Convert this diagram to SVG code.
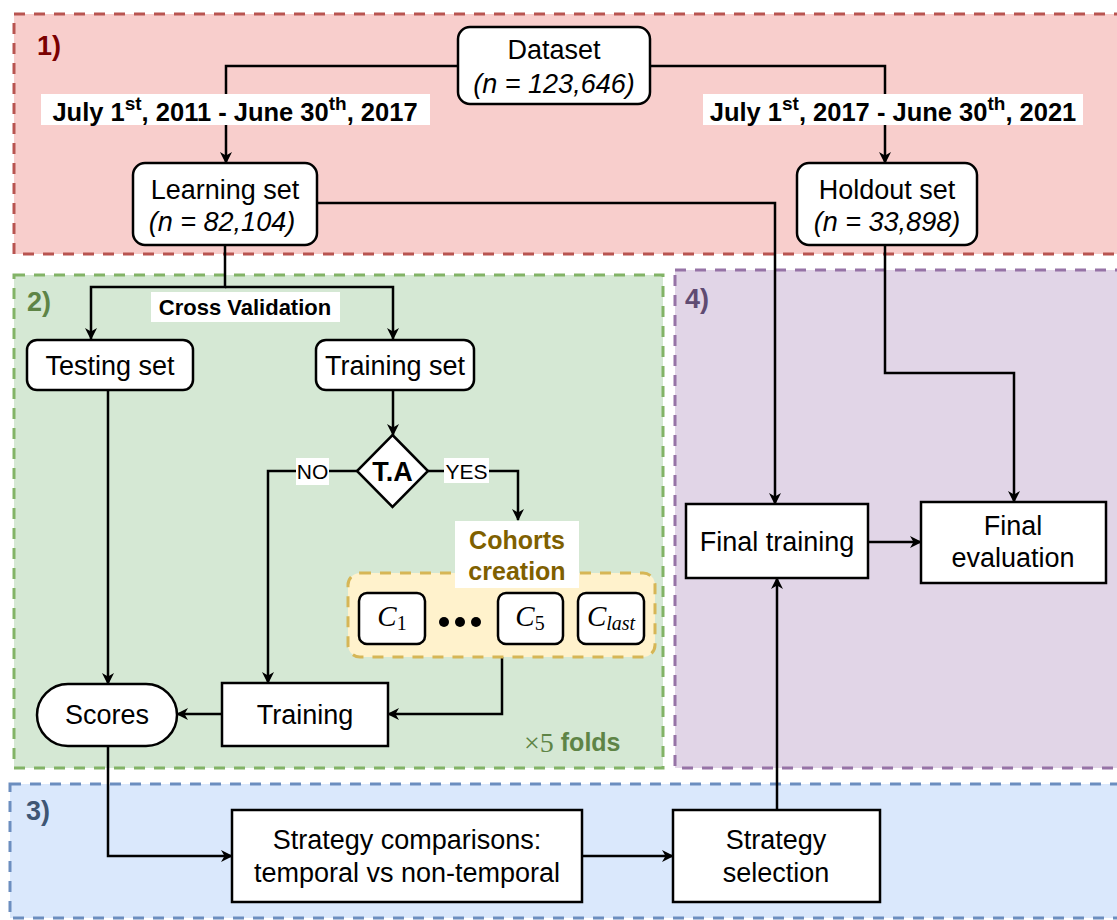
<svg xmlns="http://www.w3.org/2000/svg" width="1117" height="920" viewBox="0 0 1117 920">
<style>
.t{font-family:"Liberation Sans",Arial,sans-serif;font-size:27px;fill:#000;text-anchor:middle;dominant-baseline:central}
.b{font-weight:bold}
.node{fill:#fff;stroke:#000;stroke-width:2.5}
.c{fill:none;stroke:#000;stroke-width:2.5}
.lbg{fill:#fff}
.reg{stroke-width:3;stroke-dasharray:11 9}
.m{font-family:"Liberation Serif","Times New Roman",serif;font-size:29px;text-anchor:middle;dominant-baseline:central}
</style>
<defs>
<marker id="a" viewBox="0 0 12 12" refX="11" refY="6" markerWidth="12" markerHeight="12" markerUnits="userSpaceOnUse" orient="auto">
<path d="M0,0 L12,6 L0,12 L3.5,6 Z" fill="#000"/>
</marker>
</defs>
<rect width="1117" height="920" fill="#fff"/>
<g id="regions">
<rect x="14" y="14" width="1120" height="240" fill="#f8cecc" stroke="#b85450" class="reg"/>
<rect x="14" y="275" width="649" height="493" fill="#d5e8d4" stroke="#82b366" class="reg"/>
<rect x="675" y="270" width="460" height="498" fill="#e1d5e7" stroke="#9673a6" class="reg"/>
<rect x="10" y="784" width="1120" height="134" fill="#dae8fc" stroke="#6c8ebf" class="reg"/>
<text x="37" y="46" class="t b" style="text-anchor:start;fill:#7a0000;font-size:27px">1)</text>
<text x="27" y="302" class="t b" style="text-anchor:start;fill:#5e8446;font-size:27px">2)</text>
<text x="26" y="811" class="t b" style="text-anchor:start;fill:#3e5674;font-size:27px">3)</text>
<text x="685" y="299" class="t b" style="text-anchor:start;fill:#5f4b72;font-size:27px">4)</text>
</g>
<g id="connectors">
<path class="c" d="M458,66 H226 V163" marker-end="url(#a)"/>
<path class="c" d="M650,66 H885 V163" marker-end="url(#a)"/>
<path class="c" d="M317,203 H775 V504" marker-end="url(#a)"/>
<path class="c" d="M885,245 V373 H1014 V502" marker-end="url(#a)"/>
<path class="c" d="M225,245 V287 H91 V339" marker-end="url(#a)"/>
<path class="c" d="M225,287 H393 V339" marker-end="url(#a)"/>
<path class="c" d="M393,390 V435" marker-end="url(#a)"/>
<path class="c" d="M357,471 H268 V683" marker-end="url(#a)"/>
<path class="c" d="M428,471 H518 V520" marker-end="url(#a)"/>
<path class="c" d="M502,657 V714 H388" marker-end="url(#a)"/>
<path class="c" d="M222,714 H177" marker-end="url(#a)"/>
<path class="c" d="M108,390 V684" marker-end="url(#a)"/>
<path class="c" d="M108,746 V856 H232" marker-end="url(#a)"/>
<path class="c" d="M582,856 H673" marker-end="url(#a)"/>
<path class="c" d="M777,810 V578" marker-end="url(#a)"/>
<path class="c" d="M868,542 H921" marker-end="url(#a)"/>
<rect x="41" y="94" width="389" height="31" class="lbg"/>
<text x="235" y="121" class="t b" style="font-size:25.5px;dominant-baseline:auto">July 1<tspan font-size="19" dy="-11">st</tspan><tspan dy="11">, 2011 - June 30</tspan><tspan font-size="19" dy="-11">th</tspan><tspan dy="11">, 2017</tspan></text>
<rect x="703" y="94" width="380" height="31" class="lbg"/>
<text x="893" y="121" class="t b" style="font-size:25.5px;dominant-baseline:auto">July 1<tspan font-size="19" dy="-11">st</tspan><tspan dy="11">, 2017 - June 30</tspan><tspan font-size="19" dy="-11">th</tspan><tspan dy="11">, 2021</tspan></text>
<rect x="151" y="292" width="189" height="30" class="lbg"/>
<text x="245" y="307" class="t b" style="font-size:22px">Cross Validation</text>
<rect x="296" y="458" width="33" height="27" class="lbg"/>
<text x="312.5" y="471" class="t" style="font-size:21px">NO</text>
<rect x="444" y="458" width="45" height="25" class="lbg"/>
<text x="466.5" y="471" class="t" style="font-size:21px">YES</text>
</g>
<g id="dataset">
<rect x="458" y="27" width="192" height="77" rx="12" class="node"/>
<text x="554" y="50" class="t">Dataset</text>
<text x="554" y="84" class="t" font-style="italic">(n = 123,646)</text>
</g>
<g id="learning">
<rect x="133" y="163" width="184" height="82" rx="12" class="node"/>
<text x="225" y="190" class="t">Learning set</text>
<text x="222" y="222" class="t" font-style="italic">(n = 82,104)</text>
</g>
<g id="holdout">
<rect x="797" y="163" width="180" height="82" rx="12" class="node"/>
<text x="887" y="190" class="t">Holdout set</text>
<text x="887" y="222" class="t" font-style="italic">(n = 33,898)</text>
</g>
<g id="testing">
<rect x="27" y="340" width="166" height="50" rx="10" class="node"/>
<text x="110" y="366" class="t">Testing set</text>
</g>
<g id="trainingset">
<rect x="316" y="340" width="158" height="50" rx="10" class="node"/>
<text x="395" y="366" class="t">Training set</text>
</g>
<g id="ta">
<path d="M392.5,435 L428,471 L392.5,507 L357,471 Z" class="node"/>
<text x="392.5" y="472" class="t b" style="font-size:27px">T.A</text>
</g>
<g id="cohorts">
<rect x="348" y="573" width="307" height="84" rx="12" fill="#fff2cc" stroke="#d6b656" class="reg"/>
<rect x="455" y="521" width="124" height="67" class="lbg"/>
<text x="517" y="540" class="t b" style="font-size:25px;fill:#7f6000">Cohorts</text>
<text x="517" y="571" class="t b" style="font-size:25px;fill:#7f6000">creation</text>
<rect x="359" y="593" width="66" height="51" rx="8" class="node"/>
<text x="392" y="616" class="m"><tspan font-style="italic">C</tspan><tspan font-size="20" dy="7">1</tspan></text>
<circle cx="444" cy="622" r="5"/>
<circle cx="460" cy="622" r="5"/>
<circle cx="476" cy="622" r="5"/>
<rect x="498" y="593" width="65" height="51" rx="8" class="node"/>
<text x="530" y="616" class="m"><tspan font-style="italic">C</tspan><tspan font-size="20" dy="7">5</tspan></text>
<rect x="578" y="593" width="66" height="51" rx="8" class="node"/>
<text x="611" y="616" class="m" font-style="italic">C<tspan font-size="20" dy="7">last</tspan></text>
</g>
<g id="training">
<rect x="222" y="683" width="166" height="63" class="node"/>
<text x="305" y="715" class="t">Training</text>
</g>
<g id="scores">
<rect x="37" y="684" width="140" height="62" rx="31" class="node"/>
<text x="107" y="715" class="t">Scores</text>
</g>
<g id="folds">
<text x="524" y="742" class="m" style="text-anchor:start;fill:#5e8446;font-size:28px">×5 <tspan font-family="Liberation Sans,Arial,sans-serif" font-weight="bold" font-size="25">folds</tspan></text>
</g>
<g id="finaltraining">
<rect x="686" y="504" width="182" height="74" class="node"/>
<text x="777" y="542" class="t">Final training</text>
</g>
<g id="finaleval">
<rect x="921" y="502" width="185" height="81" class="node"/>
<text x="1013" y="526" class="t">Final</text>
<text x="1013" y="558" class="t">evaluation</text>
</g>
<g id="strategycomp">
<rect x="232" y="810" width="350" height="92" class="node"/>
<text x="407" y="840" class="t">Strategy comparisons:</text>
<text x="407" y="873" class="t">temporal vs non-temporal</text>
</g>
<g id="strategysel">
<rect x="673" y="810" width="207" height="92" class="node"/>
<text x="776" y="840" class="t">Strategy</text>
<text x="776" y="873" class="t">selection</text>
</g>
</svg>
